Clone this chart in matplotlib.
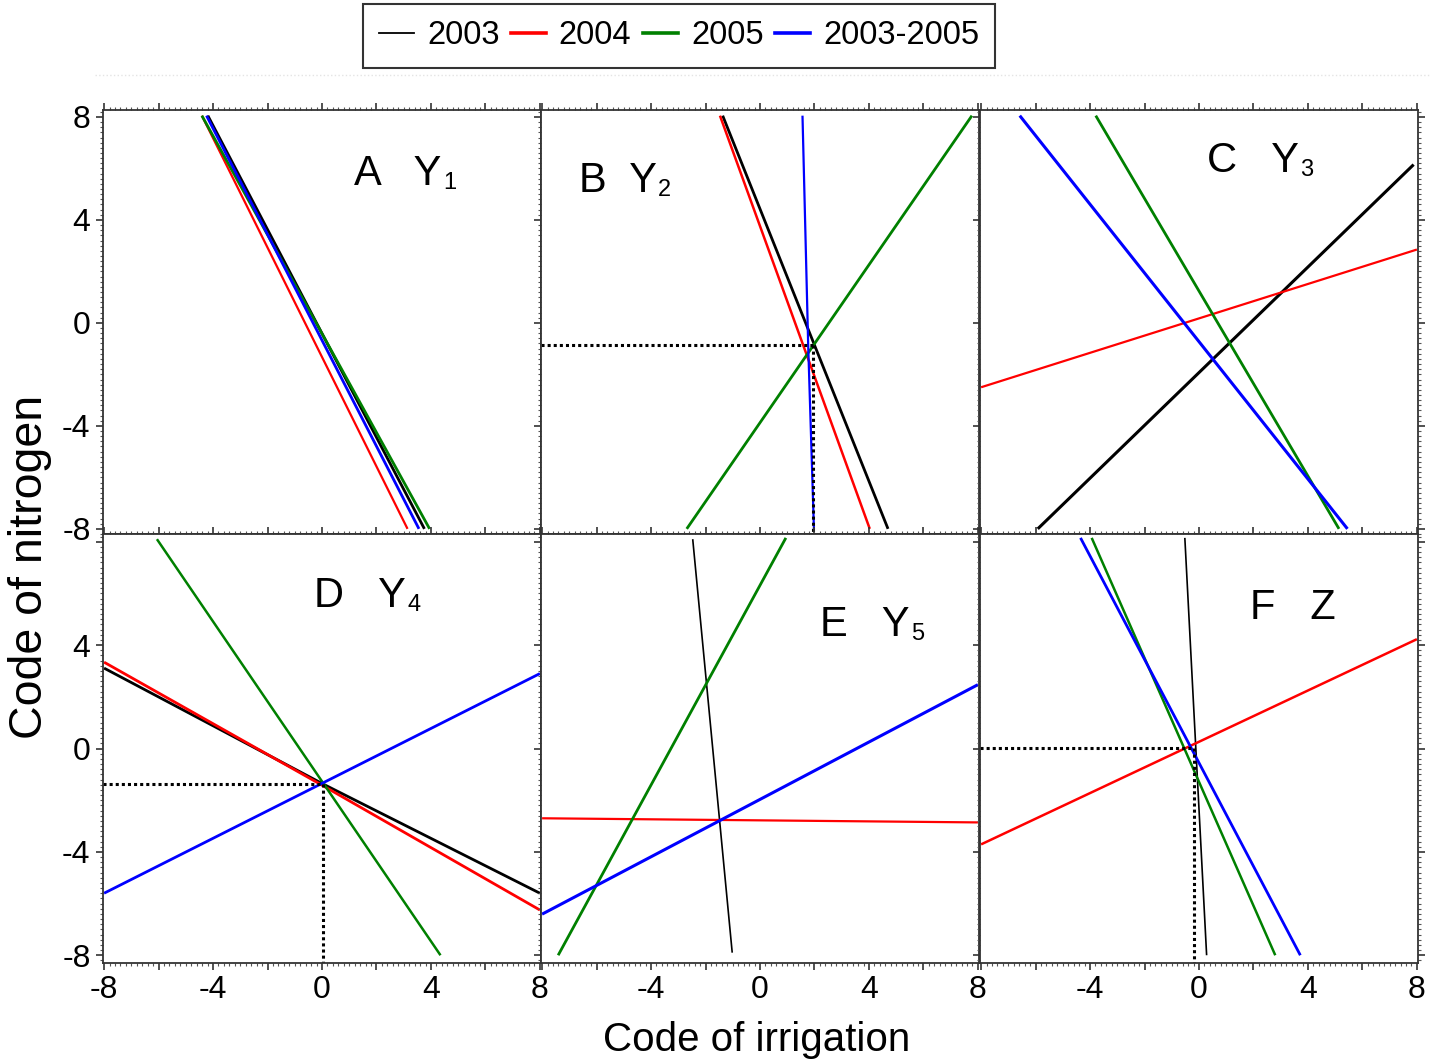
import matplotlib
matplotlib.use('Agg')
import matplotlib.pyplot as plt
from matplotlib.lines import Line2D
from matplotlib.ticker import MultipleLocator, FuncFormatter

plt.rcParams['font.family'] = ['Liberation Sans', 'DejaVu Sans']

# series order and colours
series_names = ['2003', '2004', '2005', '2003-2005']
series_colors = ['black', 'red', 'green', 'blue']

# contour lines of each panel: name -> (x values, y values)
panel_A = {
    '2003': ([-4.19, 3.76], [8.05, -8.0]),
    '2004': ([-4.41, 3.14], [8.05, -8.0]),
    '2005': ([-4.41, 3.95], [8.05, -8.0]),
    '2003-2005': ([-4.24, 3.56], [8.05, -8.0]),
}
panel_B = {
    '2003': ([-1.37, 4.70], [8.05, -8.0]),
    '2004': ([-1.47, 4.03], [8.05, -8.0]),
    '2005': ([-2.69, 7.78], [-8.0, 8.05]),
    '2003-2005': ([1.56, 1.77, 1.98], [8.05, -0.9, -8.0]),
}
panel_C = {
    '2003': ([-5.92, 7.88], [-8.0, 6.15]),
    '2004': ([-8.0, 8.0], [-2.5, 2.85]),
    '2005': ([-3.79, 5.14], [8.05, -8.0]),
    '2003-2005': ([-6.58, 5.45], [8.05, -8.0]),
}
panel_D = {
    '2003': ([-8.0, 0.05, 8.0], [3.11, -1.38, -5.6]),
    '2004': ([-8.0, 0.05, 8.0], [3.34, -1.45, -6.25]),
    '2005': ([-6.06, 4.35], [8.1, -8.0]),
    '2003-2005': ([-8.0, 8.0], [-5.6, 2.9]),
}
panel_E = {
    '2003': ([-2.47, -1.02], [8.1, -7.9]),
    '2004': ([-8.0, 8.0], [-2.70, -2.86]),
    '2005': ([-7.41, 0.95], [-8.0, 8.15]),
    '2003-2005': ([-8.0, 8.0], [-6.41, 2.47]),
}
panel_F = {
    '2003': ([-0.52, 0.28], [8.15, -8.0]),
    '2004': ([-8.0, 8.0], [-3.71, 4.23]),
    '2005': ([-3.94, 2.80], [8.15, -8.0]),
    '2003-2005': ([-4.35, 3.72], [8.15, -8.0]),
}
panels = [panel_A, panel_B, panel_C, panel_D, panel_E, panel_F]

panel_letters = ['A', 'B', 'C', 'D', 'E', 'F']
panel_responses = ['Y', 'Y', 'Y', 'Y', 'Y', 'Z']
panel_subs = ['1', '2', '3', '4', '5', '']
# optimum points marked with dotted guide lines (None = no guide)
optima = [None, (1.95, -0.85), None, (0.05, -1.39), None, (-0.2, 0.02)]

# label placement (x, baseline y) and gap between letter and response
label_pos = [(1.18, 5.34), (-6.66, 5.10), (0.29, 5.88), (-0.28, 5.47), (2.22, 4.36), (1.87, 5.0)]
label_gap = ['   ', '  ', '   ', '   ', '   ', '   ']
# line widths per panel (black, red, green, blue)
panel_lw = [
    [2.0, 1.6, 2.0, 2.0],
    [2.0, 1.8, 2.0, 1.6],
    [2.2, 1.6, 2.0, 2.2],
    [2.0, 2.0, 1.8, 2.0],
    [1.2, 1.6, 2.0, 2.2],
    [1.2, 1.8, 1.8, 2.0],
]

fig = plt.figure(figsize=(14.37, 10.61), dpi=100)

col_left = [103 / 1437, 541 / 1437, 980 / 1437]
col_w = 438 / 1437
row_rects = [(1 - 534 / 1061, 424 / 1061), (1 - 963 / 1061, 429 / 1061)]
row_ylim = [(-8.2, 8.27), (-8.3, 8.3)]


def make_xfmt(col):
    def fmt(v, p):
        k = int(round(v))
        if k % 4 != 0 or (col > 0 and k == -8):
            return ''
        return '%d' % k
    return fmt


def make_yfmt(row):
    def fmt(v, p):
        k = int(round(v))
        if row == 1 and k == 8:
            return ''
        return '%d' % k
    return fmt


for i, data in enumerate(panels):
    r, c = divmod(i, 3)
    b, h = row_rects[r]
    ax = fig.add_axes([col_left[c], b, col_w, h])
    ax.set_xlim(-8.04, 8.04)
    ax.set_ylim(*row_ylim[r])

    for name, color, lw in zip(series_names, series_colors, panel_lw[i]):
        xs, ys = data[name]
        ax.plot(xs, ys, color=color, lw=lw, solid_capstyle='butt')

    if optima[i] is not None:
        ox, oy = optima[i]
        ax.plot([-8.04, ox], [oy, oy], color='black', lw=2.2, ls=(0, (1, 1)))
        ax.plot([ox, ox], [oy, row_ylim[r][0]], color='black', lw=2.2, ls=(0, (1, 1)))

    lx, ly = label_pos[i]
    t = ax.text(lx, ly, panel_letters[i] + label_gap[i] + panel_responses[i],
                fontsize=30, va='baseline', ha='left')
    if panel_subs[i]:
        ax.annotate(panel_subs[i], xy=(1, 0), xycoords=t, xytext=(1, 0),
                    textcoords='offset points', fontsize=17, va='bottom', ha='left')

    ax.xaxis.set_major_locator(MultipleLocator(2))
    ax.xaxis.set_minor_locator(MultipleLocator(0.2))
    ax.yaxis.set_major_locator(MultipleLocator(4))
    ax.yaxis.set_minor_locator(MultipleLocator(0.2))
    ax.xaxis.set_major_formatter(FuncFormatter(make_xfmt(c)))
    ax.yaxis.set_major_formatter(FuncFormatter(make_yfmt(r)))

    ax.tick_params(which='major', direction='out', length=5, width=1.2,
                   labelsize=23, pad=4, top=True, right=True, color='#333333')
    ax.tick_params(which='minor', direction='out', length=2.5, width=0.8,
                   top=True, right=True, color='#555555')
    if c != 0:
        ax.tick_params(labelleft=False)
    if r == 0:
        ax.tick_params(labelbottom=False)
    for s in ax.spines.values():
        s.set_linewidth(1.3)
        s.set_color('#333333')

fig.text(30 / 1437, 1 - 567 / 1061, 'Code of nitrogen', rotation=90,
         fontsize=33.5, ha='center', va='center')
fig.text(757 / 1437, 1 - 1040 / 1061, 'Code of irrigation',
         fontsize=29, ha='center', va='center')

# faint separator under the legend
fig.add_artist(Line2D([95 / 1437, 1430 / 1437], [1 - 75 / 1061, 1 - 75 / 1061],
                      color='#e4e4e4', lw=1, ls=':'))

handles = [Line2D([], [], color=col, lw=(1.3 if col == 'black' else 2.6))
           for col in series_colors]
leg = fig.legend(handles, series_names, loc='center', ncol=4,
                 bbox_to_anchor=(679 / 1437, 1 - 36 / 1061), fontsize=23.5,
                 frameon=True, fancybox=False, edgecolor='black',
                 handlelength=1.07, handletextpad=0.4, columnspacing=0.35,
                 borderpad=0.5)
leg.get_frame().set_linewidth(1.5)

fig.savefig('out.png', dpi=100)
